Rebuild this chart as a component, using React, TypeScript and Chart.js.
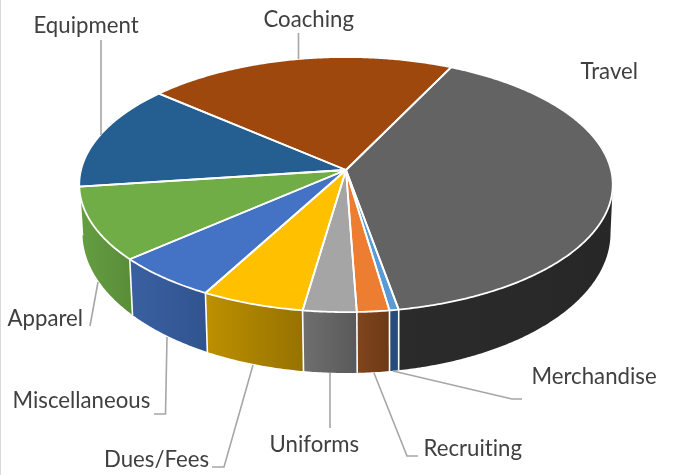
import React, { useEffect, useRef } from "react";
import { Chart, registerables } from "chart.js";

Chart.register(...registerables);

// Clockwise from the Travel slice, shares of total spending (percent, estimated).
const categories = ["Travel", "Merchandise", "Recruiting", "Uniforms", "Dues/Fees", "Miscellaneous", "Apparel", "Equipment", "Coaching"];
const shares = [40, 0.5, 1.75, 2.9, 5.6, 5.7, 9.3, 13.4, 20.9];
const firstSliceAngle = 25.9;

const faceColors = ["#636363", "#5b9bd5", "#ed7d31", "#a5a5a5", "#ffc000", "#4472c4", "#70ad47", "#255e91", "#9e480e"];
const wallFrom = ["#2b2b2b", "#264d78", "#80461d", "#6f6f6f", "#bd9000", "#3b60a1", "#659e41", "#1c4669", "#76360a"];
const wallTo = ["#272727", "#264d78", "#6d3916", "#595959", "#967200", "#30548f", "#598d39", "#1c4669", "#76360a"];

// Leader lines and label anchors on the page.
const labelX = [580.5, 531.5, 423.5, 269.5, 104, 12.5, 7.5, 33.5, 263.5];
const labelY = [72, 377, 449, 445, 460, 401, 319, 26, 20];
const leaders: number[][][] = [
  [],
  [[393, 371], [512, 399], [522, 399]],
  [[374, 373], [407, 456], [418, 456]],
  [[330, 373], [330, 428]],
  [[212, 467], [224, 467], [253, 365]],
  [[154, 414], [165.5, 414], [167, 337]],
  [[90, 326], [98, 282]],
  [[101, 40], [101, 135]],
  [[298.5, 33], [298.5, 59]],
];

const K = 0.114;
const topFace = { x: 346, y: 170, r: 265, ry: 125.9 };
const lowFace = { x: 346.5, y: 217, r: 262.3, ry: 138.2 };
const project = (f: typeof topFace, a: number): [number, number] => {
  const s = 1 / (1 - K * Math.sin(a));
  return [f.x + f.r * Math.cos(a) * s, f.y + f.ry * Math.sin(a) * s];
};
const STEP = Math.PI / 180 / 2;
const rimPath = (f: typeof topFace, a0: number, a1: number) => {
  const pts: [number, number][] = [];
  for (let a = a0; a < a1; a += STEP) pts.push(project(f, a));
  pts.push(project(f, a1));
  return pts;
};

const tilted = {
  id: "tilted",
  beforeDatasetDraw(chart: any) {
    const ctx: CanvasRenderingContext2D = chart.ctx;
    const arcs = chart.getDatasetMeta(0).data;
    const tangent = Math.asin(K);
    const vis0 = tangent;
    const vis1 = Math.PI - tangent;

    ctx.save();
    ctx.lineJoin = "round";
    arcs.forEach((arc: any, i: number) => {
      let a0 = arc.startAngle;
      let a1 = arc.endAngle;
      while (a0 >= 2 * Math.PI) { a0 -= 2 * Math.PI; a1 -= 2 * Math.PI; }
      while (a0 < -Math.PI) { a0 += 2 * Math.PI; a1 += 2 * Math.PI; }
      const from = Math.max(a0, vis0);
      const to = Math.min(a1, vis1);
      if (to > from) {
        const up = rimPath(topFace, from, to);
        const low = rimPath(lowFace, from, to);
        const xs = [...up, ...low].map((p) => p[0]);
        const g = ctx.createLinearGradient(Math.min(...xs), 0, Math.max(...xs), 0);
        g.addColorStop(0, wallFrom[i]);
        g.addColorStop(1, wallTo[i]);
        ctx.beginPath();
        up.forEach((p, j) => (j ? ctx.lineTo(p[0], p[1]) : ctx.moveTo(p[0], p[1])));
        low.reverse().forEach((p) => ctx.lineTo(p[0], p[1]));
        ctx.closePath();
        ctx.fillStyle = g;
        ctx.fill();
      }
    });
    // white seams between the walls
    ctx.strokeStyle = "#ffffff";
    ctx.lineWidth = 1.6;
    arcs.forEach((arc: any) => {
      const a = arc.startAngle;
      const norm = ((a % (2 * Math.PI)) + 2 * Math.PI) % (2 * Math.PI);
      if (norm > vis0 && norm < vis1) {
        const p = project(topFace, a);
        const q = project(lowFace, a);
        ctx.beginPath();
        ctx.moveTo(p[0], p[1]);
        ctx.lineTo(q[0], q[1]);
        ctx.stroke();
      }
    });
    // top faces
    arcs.forEach((arc: any, i: number) => {
      ctx.beginPath();
      ctx.moveTo(topFace.x, topFace.y);
      rimPath(topFace, arc.startAngle, arc.endAngle).forEach((p) => ctx.lineTo(p[0], p[1]));
      ctx.closePath();
      ctx.fillStyle = faceColors[i];
      ctx.fill();
    });
    ctx.lineWidth = 1.8;
    ctx.strokeStyle = "#ffffff";
    arcs.forEach((arc: any) => {
      ctx.beginPath();
      ctx.moveTo(topFace.x, topFace.y);
      rimPath(topFace, arc.startAngle, arc.endAngle).forEach((p) => ctx.lineTo(p[0], p[1]));
      ctx.closePath();
      ctx.stroke();
    });
    ctx.restore();
    return false;
  },
  afterDatasetsDraw(chart: any) {
    const ctx: CanvasRenderingContext2D = chart.ctx;
    ctx.save();
    ctx.strokeStyle = "#a6a6a6";
    ctx.lineWidth = 1.6;
    leaders.forEach((line) => {
      if (!line.length) return;
      ctx.beginPath();
      line.forEach((p, j) => (j ? ctx.lineTo(p[0], p[1]) : ctx.moveTo(p[0], p[1])));
      ctx.stroke();
    });
    ctx.fillStyle = "#404040";
    ctx.font = "22.2px Lato";
    (ctx as any).letterSpacing = "0.01px";
    ctx.textAlign = "left";
    ctx.textBaseline = "middle";
    categories.forEach((c, i) => ctx.fillText(c, labelX[i], labelY[i]));
    ctx.restore();
  },
};

export default function App() {
  const ref = useRef<HTMLCanvasElement>(null);
  useEffect(() => {
    const chart = new Chart(ref.current!, {
      type: "pie",
      data: {
        labels: categories,
        datasets: [{ data: shares, backgroundColor: faceColors, borderColor: "#ffffff" }],
      },
      options: {
        animation: false,
        responsive: false,
        rotation: firstSliceAngle,
        plugins: { legend: { display: false }, tooltip: { enabled: false } },
      },
      plugins: [tilted],
    });
    return () => chart.destroy();
  }, []);
  return (
    <div style={{ position: "fixed", left: 0, top: 0, width: 674, height: 475, background: "#fff" }}>
      <canvas ref={ref} width={674} height={475} style={{ display: "block" }} />
      <div style={{ position: "absolute", left: 0, top: 0, width: 1, height: 475, background: "#d9d9d9" }} />
    </div>
  );
}
